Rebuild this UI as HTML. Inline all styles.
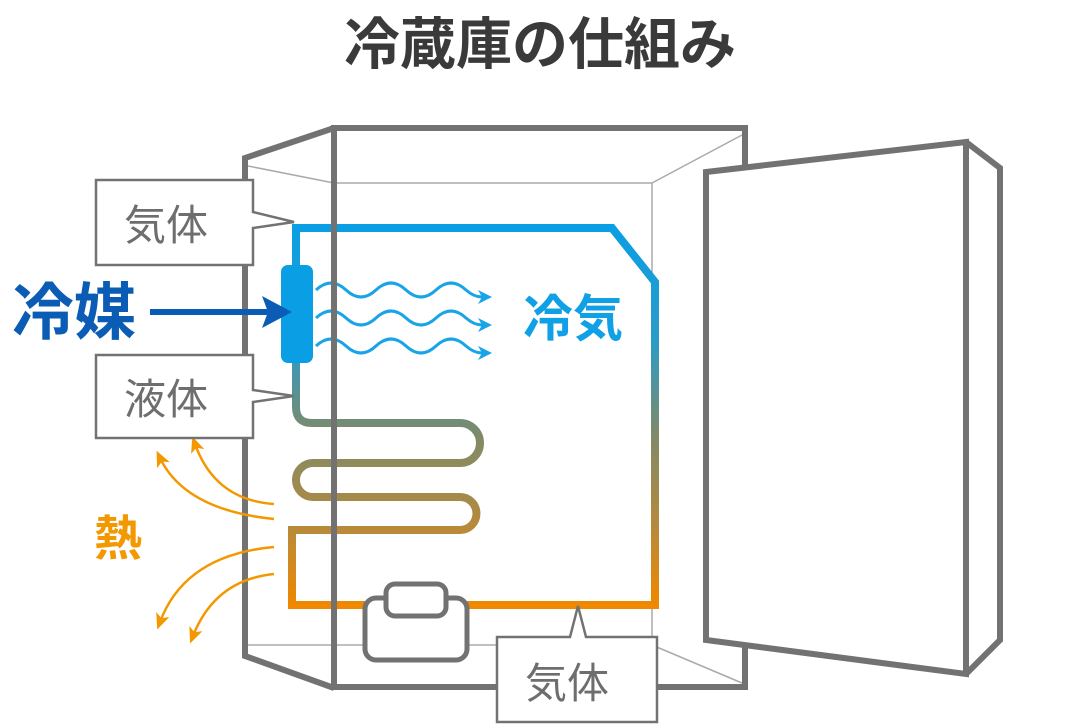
<!DOCTYPE html>
<html><head><meta charset="utf-8"><style>
html,body{margin:0;padding:0;background:#fff;}
svg{display:block;}
text{font-family:"Liberation Sans","Noto Sans CJK JP",sans-serif;font-weight:bold;}
</style></head><body>
<svg width="1065" height="725" viewBox="0 0 1065 725" xmlns="http://www.w3.org/2000/svg">
<defs>
<linearGradient id="pg" x1="0" y1="228" x2="0" y2="605" gradientUnits="userSpaceOnUse">
<stop offset="0" stop-color="#0a9ee4"/>
<stop offset="0.3" stop-color="#2a9cc8"/>
<stop offset="0.55" stop-color="#7f8a68"/>
<stop offset="0.8" stop-color="#b88a3a"/>
<stop offset="1" stop-color="#f08800"/>
</linearGradient>
<marker id="ob" markerWidth="14" markerHeight="14" refX="4" refY="7" orient="auto" markerUnits="userSpaceOnUse" viewBox="0 0 14 14"><path d="M0,0 L14,7 L0,14 L4,7z" fill="#1aa4e8"/></marker>
<marker id="oo" markerWidth="16" markerHeight="16" refX="8" refY="8" orient="auto" markerUnits="userSpaceOnUse" viewBox="0 0 16 16"><path d="M0,1 L16,8 L0,15 L4,8z" fill="#f39800"/></marker>
</defs>

<text x="540" y="64" font-size="56" fill="#3a3a3a" text-anchor="middle">冷蔵庫の仕組み</text>

<g stroke="#aaa" stroke-width="1.5" fill="none">
<line x1="248" y1="166" x2="334" y2="183"/>
<line x1="334" y1="183" x2="652" y2="183"/>
<line x1="652" y1="183" x2="742" y2="135"/>
<line x1="652" y1="183" x2="652" y2="643"/>
<line x1="248" y1="645" x2="652" y2="645"/>
<line x1="652" y1="645" x2="742" y2="683"/>
</g>

<path d="M296,265 L296,228 L612,228 L655,282 L655,605 L292,605 L292,530 L460,530 A16.5,16.5 0 0 0 460,497 L313,497 A17,17 0 0 1 313,463 L460,463 A20,20 0 0 0 460,423 L312,423 Q296,423 296,407 L296,362" stroke="url(#pg)" stroke-width="8" fill="none"/>

<rect x="281" y="265" width="32" height="98" rx="7" fill="#0a9ee4"/>

<g stroke="#1aa4e8" stroke-width="3" fill="none">
<path d="M316,290 q15,-14 30,0 t30,0 t30,0 t30,0 t30,0 q8,7 16,7" marker-end="url(#ob)"/>
<path d="M316,318 q15,-14 30,0 t30,0 t30,0 t30,0 t30,0 q8,7 16,7" marker-end="url(#ob)"/>
<path d="M316,346 q15,-14 30,0 t30,0 t30,0 t30,0 t30,0 q8,7 16,7" marker-end="url(#ob)"/>
</g>

<g stroke="#727272" stroke-width="6" fill="none" stroke-linejoin="miter">
<polyline points="334,128 245,158 245,656 334,688"/>
<rect x="334" y="128" width="411" height="559"/>
</g>

<rect x="365" y="598" width="102" height="62" rx="11" fill="#fff" stroke="#727272" stroke-width="5"/>
<rect x="386" y="584" width="60" height="32" rx="9" fill="#fff" stroke="#727272" stroke-width="5"/>

<text x="523" y="336" font-size="50" fill="#10a0e6">冷気</text>

<text x="12" y="334" font-size="62" fill="#0a5cb4">冷媒</text>
<line x1="150" y1="312" x2="274" y2="312" stroke="#0a5cb4" stroke-width="6"/>
<path d="M262,296 L292,312 L262,328 L268,312z" fill="#0a5cb4"/>

<text x="94" y="555" font-size="48" fill="#f39800">熱</text>
<g stroke="#f39800" stroke-width="2.5" fill="none">
<path d="M274,504 Q215,500 195,444" marker-end="url(#oo)"/>
<path d="M274,519 Q185,510 160,458" marker-end="url(#oo)"/>
<path d="M274,547 Q185,555 160,622" marker-end="url(#oo)"/>
<path d="M274,574 Q215,580 193,636" marker-end="url(#oo)"/>
</g>

<g fill="#fff" stroke="#727272" stroke-width="2.5">
<path d="M96,180 H253 V212 L294,222 L253,228 V265 H96 Z"/>
<path d="M96,355 H253 V390 L294,396 L253,402 V438 H96 Z"/>
<path d="M497,637 H570 L578,606 L586,637 H657 V722 H497 Z"/>
</g>
<g font-size="42" fill="#6e6e6e">
<text x="124" y="240" style="font-weight:normal">気体</text>
<text x="124" y="414" style="font-weight:normal">液体</text>
<text x="525" y="698" style="font-weight:normal">気体</text>
</g>

<g stroke="#727272" stroke-width="6" fill="#fff" stroke-linejoin="miter">
<polygon points="706,172 966,142 966,674 706,640"/>
<polyline points="966,142 1000,168 1000,640 966,674" fill="none"/>
</g>
</svg>
</body></html>
